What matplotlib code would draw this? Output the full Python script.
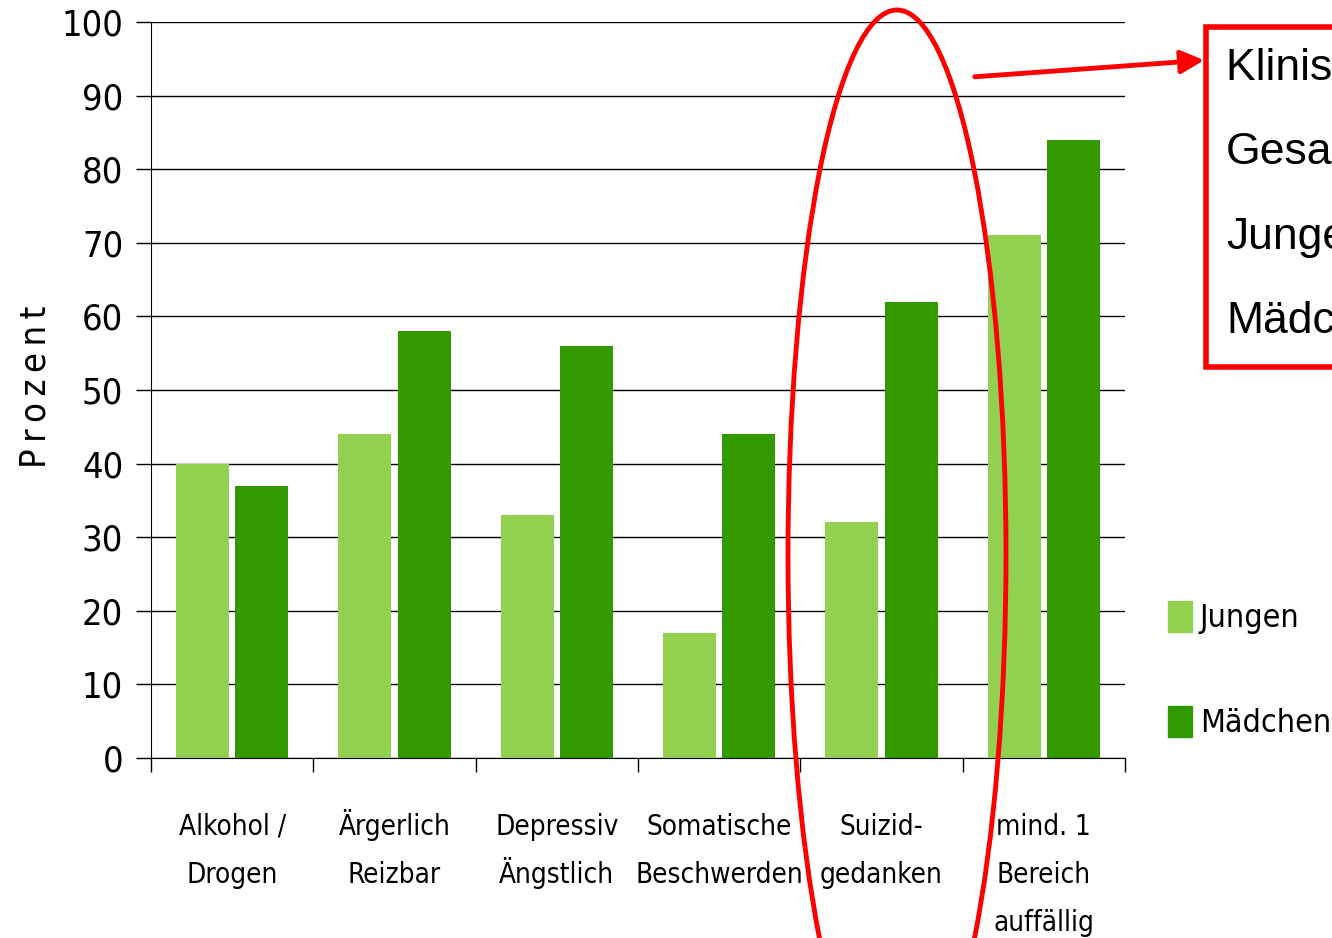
import numpy as np
import matplotlib.pyplot as plt
import matplotlib.transforms as mtransforms
from matplotlib import font_manager
from matplotlib.patches import Ellipse, Rectangle, FancyArrowPatch

# data
categories = ["Alkohol /\nDrogen", "Ärgerlich\nReizbar", "Depressiv\nÄngstlich",
              "Somatische\nBeschwerden", "Suizid-\ngedanken", "mind. 1\nBereich\nauffällig"]
jungen = [40, 44, 33, 17, 32, 71]
maedchen = [37, 58, 56, 44, 62, 84]
box_lines = ["Klinisch bedeutsam", "Gesamt", "Jungen", "Mädchen"]

# look for a narrow face (the original uses a condensed font)
narrow_family, narrow_stretch = None, "normal"
for f in font_manager.fontManager.ttflist:
    if "Narrow" in f.name or "Condensed" in f.name or str(f.stretch) in ("condensed", "semi-condensed", "extra-condensed", "ultra-condensed"):
        narrow_family, narrow_stretch = f.name, f.stretch
        if "Bold" not in f.fname and "Oblique" not in f.fname and "Italic" not in f.fname:
            break
if narrow_family:
    plt.rcParams["font.family"] = [narrow_family, "DejaVu Sans"]
    plt.rcParams["font.stretch"] = narrow_stretch
    scale = 1.0
else:
    plt.rcParams["font.family"] = ["DejaVu Sans"]
    scale = 0.8

fig = plt.figure(figsize=(13.32, 9.38), dpi=100)
ax = fig.add_axes([151/1332, 1-758/938, (1125-151)/1332, (758-22)/938])

x = np.arange(len(categories))
w = 0.327
ax.bar(x - 0.182, jungen, w, color="#92D050", label="Jungen", zorder=3)
ax.bar(x + 0.182, maedchen, w, color="#339900", label="Mädchen", zorder=3)

ax.set_xlim(-0.5, len(categories) - 0.5)
ax.set_ylim(0, 100)
ax.set_yticks(range(0, 101, 10))
ax.tick_params(axis="y", labelsize=26*scale, length=11, width=1, pad=9)
ax.yaxis.grid(True, color="black", lw=1)
ax.set_axisbelow(True)
for s in ["top", "right"]:
    ax.spines[s].set_visible(False)

# category ticks at boundaries
ax.set_xticks(np.arange(-0.5, len(categories), 1.0))
ax.set_xticklabels([])
ax.tick_params(axis="x", length=10, width=1)

# category labels, one text per line so the baselines stay even
trans = mtransforms.blended_transform_factory(ax.transData, ax.transAxes)
for i, cat in enumerate(categories):
    for j, line in enumerate(cat.split("\n")):
        ax.text(x[i], -0.1046 - j*0.0652, line, transform=trans, ha="center",
                va="baseline", fontsize=20*scale, clip_on=False)

ax.set_ylabel("P\u2009r\u2009o\u2009z\u2009e\u2009n\u2009t", fontsize=26*scale)
ax.yaxis.set_label_coords(-0.101, 0.505)

# legend
handles = [Rectangle((0, 0), 1, 1, color="#92D050"), Rectangle((0, 0), 1, 1, color="#339900")]
fig.legend(handles, ["Jungen", "Mädchen"], loc="upper left",
           bbox_to_anchor=(1152/1332, 1-585/938), frameon=False, fontsize=23*scale,
           handlelength=0.75, handleheight=1.1, handletextpad=0.25, labelspacing=2.25,
           borderpad=0)

# red annotations
ell = Ellipse((897/1332, 1-555/938), 218/1332, 1090/938, transform=fig.transFigure,
              fill=False, edgecolor="#FF0000", lw=3.5, clip_on=False)
fig.patches.append(ell)

arrow = FancyArrowPatch((972/1332, 1-77/938), (1207/1332, 1-60/938), transform=fig.transFigure,
                        arrowstyle="-|>,head_length=14,head_width=7", color="#FF0000",
                        lw=3.5, mutation_scale=1)
fig.patches.append(arrow)

box = Rectangle((1206/1332, 1-367/938), 200/1332, 340/938, transform=fig.transFigure,
                fill=True, facecolor="white", edgecolor="#FF0000", lw=4, clip_on=False)
fig.patches.append(box)

for i, t in enumerate(box_lines):
    fig.text(1226/1332, 1-(68 + i*84.5)/938, t, fontsize=32, family="Liberation Sans",
             stretch="normal", va="center", ha="left")

fig.savefig("out.png", dpi=100)
